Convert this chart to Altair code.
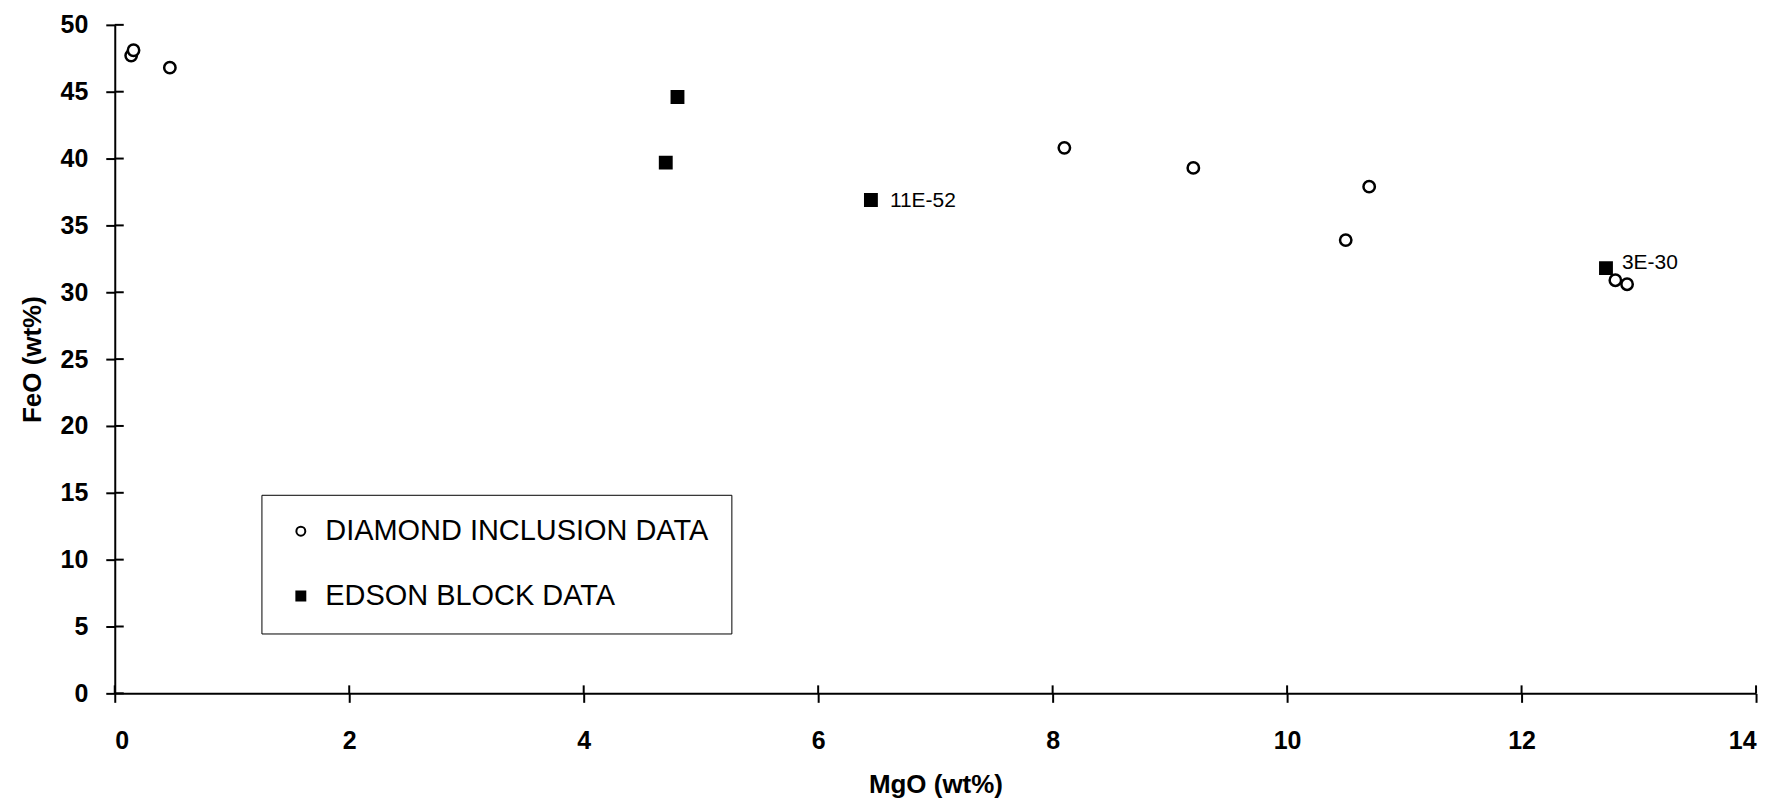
import altair as alt
import pandas as pd

# ---- data ----
diamond_mgo = [0.14, 0.16, 0.47, 8.1, 9.2, 10.5, 10.7, 12.8, 12.9]
diamond_feo = [47.7, 48.1, 46.8, 40.8, 39.3, 33.9, 37.9, 30.9, 30.6]

edson_mgo = [4.7, 4.8, 6.45, 12.72]
edson_feo = [39.7, 44.6, 36.9, 31.8]
edson_labels = ["", "", "11E-52", "3E-30"]

series_names = ["DIAMOND INCLUSION DATA", "EDSON BLOCK DATA"]
x_ticks = [0, 2, 4, 6, 8, 10, 12, 14]
y_ticks = [0, 5, 10, 15, 20, 25, 30, 35, 40, 45, 50]

pts = pd.DataFrame({
    "mgo": diamond_mgo + edson_mgo,
    "feo": diamond_feo + edson_feo,
    "series": [series_names[0]] * len(diamond_mgo) + [series_names[1]] * len(edson_mgo),
    "label": [""] * len(diamond_mgo) + edson_labels,
})

W, H = 1645, 670
FONT = "Liberation Sans"

xs = alt.Scale(domain=[0, 14], nice=False, zero=False)
ys = alt.Scale(domain=[0, 50], nice=False)

leg = alt.Legend(
    title=None,
    orient="none", legendX=147, legendY=471,
    strokeColor="black", fillColor="white", padding=22,
    labelFont=FONT, labelFontSize=29, labelColor="black", labelLimit=0,
    symbolSize=80, symbolStrokeWidth=2, symbolOffset=3,
    rowPadding=35, labelOffset=10,
)

points = alt.Chart(pts).mark_point(filled=True, strokeWidth=2.5, opacity=1, size=130).encode(
    x=alt.X("mgo:Q", scale=xs, title="MgO (wt%)",
            axis=alt.Axis(values=x_ticks, labelPadding=26, titlePadding=18, format="d")),
    y=alt.Y("feo:Q", scale=ys, title="FeO (wt%)",
            axis=alt.Axis(values=y_ticks, labelPadding=18, titlePadding=15, format="d")),
    shape=alt.Shape("series:N", scale=alt.Scale(domain=series_names, range=["circle", "square"]), legend=leg),
    fill=alt.Fill("series:N", scale=alt.Scale(domain=series_names, range=["white", "black"]), legend=leg),
    stroke=alt.Stroke("series:N", scale=alt.Scale(domain=series_names, range=["black", "black"]), legend=leg),
)

lab1 = alt.Chart(pts).transform_filter(alt.datum.label == "11E-52").mark_text(
    align="left", baseline="middle", dx=19, dy=1, font=FONT, fontSize=21, color="black"
).encode(x=alt.X("mgo:Q", scale=xs), y=alt.Y("feo:Q", scale=ys), text="label:N")

lab2 = alt.Chart(pts).transform_filter(alt.datum.label == "3E-30").mark_text(
    align="left", baseline="middle", dx=16, dy=-5, font=FONT, fontSize=21, color="black"
).encode(x=alt.X("mgo:Q", scale=xs), y=alt.Y("feo:Q", scale=ys), text="label:N")

# inner halves of the crossing tick marks
ytick_df = pd.DataFrame({"feo": y_ticks})
xtick_df = pd.DataFrame({"mgo": x_ticks})
ytick_in = alt.Chart(ytick_df).mark_rule(color="black", strokeWidth=2).encode(
    y=alt.Y("feo:Q", scale=ys), x=alt.value(0), x2=alt.value(9))
xtick_in = alt.Chart(xtick_df).mark_rule(color="black", strokeWidth=2).encode(
    x=alt.X("mgo:Q", scale=xs), y=alt.value(H - 8), y2=alt.value(H))

chart = alt.layer(points, lab1, lab2, ytick_in, xtick_in).properties(
    width=W, height=H,
    autosize=alt.AutoSizeParams(type="none"),
    padding={"left": 107, "top": 16, "right": 20, "bottom": 108},
    background="white",
).configure_view(stroke=None).configure_axis(
    grid=False, domainColor="black", domainWidth=2, tickColor="black", tickWidth=2, tickSize=9,
    labelFont=FONT, labelFontSize=25, labelFontWeight="bold", labelColor="black",
    titleFont=FONT, titleFontSize=26, titleFontWeight="bold", titleColor="black",
)

chart.save("out.html", embed_options={"renderer": "svg", "actions": False})
